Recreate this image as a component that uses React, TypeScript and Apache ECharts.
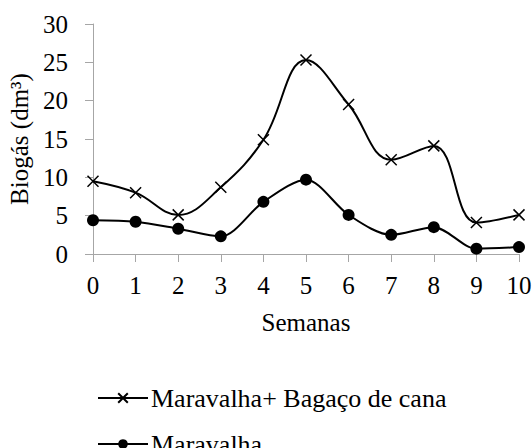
import React, { useEffect, useRef } from "react";
import * as echarts from "echarts";

const weeks = ["0", "1", "2", "3", "4", "5", "6", "7", "8", "9", "10"];
const maravalhaBagaco = [9.5, 8.0, 5.1, 8.7, 14.9, 25.3, 19.5, 12.3, 14.1, 4.1, 5.1];
const maravalha = [4.4, 4.2, 3.3, 2.3, 6.8, 9.7, 5.1, 2.5, 3.5, 0.7, 0.9];
const yTicks = { min: 0, max: 30, interval: 5 };
const seriesNames = ["Maravalha+ Bagaço de cana", "Maravalha"];

const FONT = "Liberation Serif";
const crossSymbol = "path://M0,0L10,10M10,0L0,10";

export default function App() {
  const ref = useRef<HTMLDivElement>(null);
  useEffect(() => {
    if (!ref.current) return;
    const chart = echarts.init(ref.current, undefined, { renderer: "svg" });
    const legendBase = {
      orient: "vertical",
      left: 92,
      itemWidth: 50,
      itemHeight: 12,
      textStyle: { fontFamily: FONT, fontSize: 26, color: "#000", padding: [0, 0, 0, -2] },
    };
    chart.setOption({
      animation: false,
      backgroundColor: "#fff",
      textStyle: { fontFamily: FONT, color: "#000" },
      grid: { left: 93, right: 13, top: 24, bottom: 194, containLabel: false, outerBoundsMode: "none" },
      xAxis: {
        type: "category",
        data: weeks,
        boundaryGap: false,
        name: "Semanas",
        nameLocation: "middle",
        nameGap: 56,
        nameTextStyle: { fontFamily: FONT, fontSize: 25, color: "#000" },
        axisLine: { lineStyle: { color: "#a6a6a6", width: 1 } },
        axisTick: { show: true, length: 8, lineStyle: { color: "#a6a6a6" }, alignWithLabel: true },
        axisLabel: { fontFamily: FONT, fontSize: 25, color: "#000", margin: 19 },
        splitLine: { show: false },
      },
      yAxis: {
        type: "value",
        min: yTicks.min,
        max: yTicks.max,
        interval: yTicks.interval,
        name: "Biogás (dm³)",
        nameLocation: "middle",
        nameGap: 56,
        nameTextStyle: { fontFamily: FONT, fontSize: 25, color: "#000" },
        axisLine: { show: true, lineStyle: { color: "#a6a6a6", width: 1 } },
        axisTick: { show: true, length: 8, lineStyle: { color: "#a6a6a6" } },
        axisLabel: { fontFamily: FONT, fontSize: 25, color: "#000", margin: 25 },
        splitLine: { show: false },
      },
      legend: [
        { ...legendBase, top: 380, data: [seriesNames[0]] },
        { ...legendBase, top: 426, data: [seriesNames[1]] },
      ],
      series: [
        {
          name: seriesNames[0],
          type: "line",
          data: maravalhaBagaco,
          smooth: 0.4,
          symbol: crossSymbol,
          symbolSize: 11,
          lineStyle: { color: "#000", width: 2 },
          itemStyle: { color: "#000", borderColor: "#000", borderWidth: 1.5 },
        },
        {
          name: seriesNames[1],
          type: "line",
          data: maravalha,
          smooth: 0.3,
          symbol: "circle",
          symbolSize: 12,
          lineStyle: { color: "#000", width: 2 },
          itemStyle: { color: "#000", borderWidth: 0 },
        },
      ],
    });
    return () => chart.dispose();
  }, []);
  return <div ref={ref} style={{ position: "fixed", left: 0, top: 0, width: 532, height: 448 }} />;
}
